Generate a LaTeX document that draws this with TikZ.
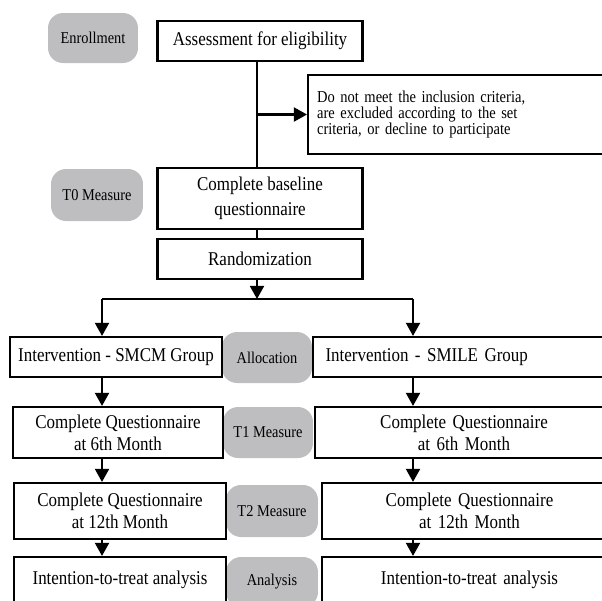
\documentclass[tikz,border=0pt]{standalone}
\usepackage{fontspec}
\setmainfont{Liberation Serif}[FakeStretch=0.87]
\usetikzlibrary{positioning,arrows.meta}

\begin{document}
\begin{tikzpicture}[x=0.02cm,y=-0.02cm,->,>={Triangle[length=7.5pt,width=8pt]},line width=1.2pt]
  \tikzstyle{stage}=[-,draw,fill=white,line width=1.2pt,align=center,inner sep=0pt,font=\fontsize{11.1}{12.5}\selectfont]
  \tikzstyle{phase}=[-,fill={rgb,255:red,190;green,190;blue,192},rounded corners=0.3cm,inner sep=0pt,font=\fontsize{9.4}{11}\selectfont]

  \useasboundingbox (0,0) rectangle (602,600);
  \clip (0,0) rectangle (602,600);

  % phase labels
  \node[phase,minimum width=1.8cm,minimum height=1cm] (enrol) at (93,38) {Enrollment};
  \node[phase,minimum width=1.84cm,minimum height=1.04cm] (tzero) at (97,195) {T0 Measure};
  \node[phase,minimum width=1.8cm,minimum height=1.02cm] (alloc) at (267,357.5) {Allocation};
  \node[phase,minimum width=1.8cm,minimum height=1.02cm] (tone) at (268,432.5) {T1 Measure};
  \node[phase,minimum width=1.84cm,minimum height=1.04cm] (ttwo) at (272,511) {T2 Measure};
  \node[phase,minimum width=1.84cm,minimum height=1cm] (anal) at (272,582) {Analysis};

  % enrollment
  \node[stage,minimum width=4.1cm,minimum height=0.8cm] (assess) at (260,41) {Assessment for eligibility};
  \node[stage,anchor=west,minimum height=1.58cm,text width=5.74cm,inner xsep=0.18cm,align=left,
        font=\fontsize{9.5}{9.2}\selectfont] (excl) at (307,114.5)
        {Do not meet the inclusion criteria,\\are excluded according to the set\\criteria, or decline to participate};
  \node[stage,minimum width=4.1cm,minimum height=1.22cm,font=\fontsize{11.1}{14}\selectfont] (base) at (260,198.5) {Complete baseline\\questionnaire};
  \node[stage,minimum width=4.1cm,minimum height=0.8cm] (rand) at (260,259) {Randomization};

  % two arms
  \node[stage,minimum width=4.24cm,minimum height=0.8cm] (smcm) at (116,357) {Intervention - SMCM Group};
  \node[stage,anchor=west,minimum width=6.1cm,minimum height=0.8cm,text width=5.6cm,align=left,inner xsep=0.2cm] (smile) at (312,357) {Intervention - SMILE Group};
  \node[stage,minimum width=4.2cm,minimum height=1.02cm] (qsixl) at (118,432.5) {Complete Questionnaire\\at 6th Month};
  \node[stage,anchor=west,minimum width=5.96cm,minimum height=1.02cm,text width=5.36cm,inner xsep=0cm] (qsixr) at (314,432.5) {Complete Questionnaire\\at 6th Month};
  \node[stage,minimum width=4.24cm,minimum height=1.12cm] (qtwl) at (120,511) {Complete Questionnaire\\at 12th Month};
  \node[stage,anchor=west,minimum width=5.9cm,minimum height=1.12cm,text width=5.3cm,inner xsep=0cm] (qtwr) at (321,511) {Complete Questionnaire\\at 12th Month};
  \node[stage,minimum width=4.24cm,minimum height=0.92cm] (ittl) at (120,580) {Intention-to-treat analysis};
  \node[stage,anchor=west,minimum width=5.9cm,minimum height=0.92cm,text width=5.3cm,inner xsep=0cm] (ittr) at (321,580) {Intention-to-treat analysis};

  \coordinate (mid) at (257,299);
  \coordinate (lcol) at (102,299);
  \coordinate (rcol) at (413,299);

  \draw[-] (assess.south -| mid) -- (base.north -| mid);
  \draw (mid |- excl.west) -- (excl.west);
  \draw[-] (base.south -| mid) -- (rand.north -| mid);
  \draw (rand.south -| mid) -- (mid);
  \draw[-] (lcol) -- (rcol);
  \draw (lcol) -- (smcm.north -| lcol);
  \draw (rcol) -- (smile.north -| rcol);

  \draw (smcm.south -| lcol) -- (qsixl.north -| lcol);
  \draw (qsixl.south -| lcol) -- (qtwl.north -| lcol);
  \draw (qtwl.south -| lcol) -- (ittl.north -| lcol);
  \draw (smile.south -| rcol) -- (qsixr.north -| rcol);
  \draw (qsixr.south -| rcol) -- (qtwr.north -| rcol);
  \draw (qtwr.south -| rcol) -- (ittr.north -| rcol);

\end{tikzpicture}
\end{document}
